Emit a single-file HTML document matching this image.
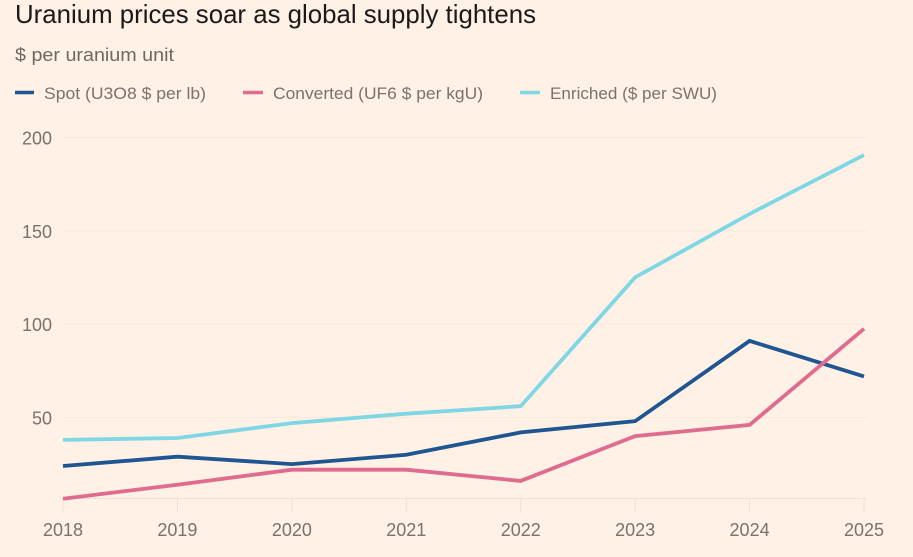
<!DOCTYPE html>
<html lang="en">
<head>
<meta charset="utf-8">
<title>Uranium prices soar as global supply tightens</title>
<style>
html,body{margin:0;padding:0;background:#fff1e5;width:913px;height:557px;overflow:hidden}
svg{display:block}
text{font-family:"Liberation Sans",sans-serif}
</style>
</head>
<body>
<svg id="chart" width="913" height="557" viewBox="0 0 913 557" xmlns="http://www.w3.org/2000/svg">
<rect x="0" y="0" width="913" height="557" fill="#fff1e5"/>
<text x="15" y="23" font-size="26" fill="#1c1a19" textLength="521" lengthAdjust="spacingAndGlyphs">Uranium prices soar as global supply tightens</text>
<text x="15" y="61" font-size="18" fill="#6f6863" textLength="159" lengthAdjust="spacingAndGlyphs">$ per uranium unit</text>
<g>
<line x1="15" x2="34" y1="92.5" y2="92.5" stroke="#1f5591" stroke-width="3.5"/>
<text x="44" y="99" font-size="17" fill="#7a726c" textLength="162" lengthAdjust="spacingAndGlyphs">Spot (U3O8 $ per lb)</text>
<line x1="243" x2="263" y1="92.5" y2="92.5" stroke="#df6b8e" stroke-width="3.5"/>
<text x="273" y="99" font-size="17" fill="#7a726c" textLength="210" lengthAdjust="spacingAndGlyphs">Converted (UF6 $ per kgU)</text>
<line x1="520" x2="540" y1="92.5" y2="92.5" stroke="#7fd6e4" stroke-width="3.5"/>
<text x="550" y="99" font-size="17" fill="#7a726c" textLength="167" lengthAdjust="spacingAndGlyphs">Enriched ($ per SWU)</text>
</g>
<g id="grid"></g>
<g id="xaxis"></g>
<g id="series"></g>
</svg>
<script>
const years = ['2018','2019','2020','2021','2022','2023','2024','2025'];
const spot = [24, 29, 25, 30, 42, 48, 91, 72];
const converted = [6.5, 14, 22, 22, 16, 40, 46, 97.5];
const enriched = [38, 39, 47, 52, 56, 125, 159, 190.5];
const yTicks = [50, 100, 150, 200];

const NS = 'http://www.w3.org/2000/svg';
const xScale = i => 63 + i * (864 - 63) / (years.length - 1);
const yScale = v => 510.8 - v * 1.867;
const baseY = 498.5;

function make(tag, attrs, parent) {
  const el = document.createElementNS(NS, tag);
  for (const k in attrs) el.setAttribute(k, attrs[k]);
  parent.appendChild(el);
  return el;
}

const grid = document.getElementById('grid');
yTicks.forEach(t => {
  const gl = make('line', {x1: 63, x2: 867, y1: yScale(t), y2: yScale(t), stroke: '#f9e9dc', 'stroke-width': 1}, grid);
  
  
  const lb = make('text', {x: 52, y: yScale(t) + 7, 'text-anchor': 'end', 'font-size': 18, fill: '#7a726c'}, grid);
  
  
  lb.textContent = t;
});

const xaxis = document.getElementById('xaxis');
const bl = make('line', {x1: 63, x2: 867, y1: baseY, y2: baseY, stroke: '#f0e1d5', 'stroke-width': 1}, xaxis);


years.forEach((y, i) => {
  const tk = make('line', {x1: xScale(i), x2: xScale(i), y1: baseY, y2: 513, stroke: '#f0e1d5', 'stroke-width': 1}, xaxis);
  
  
  const lb = make('text', {x: xScale(i), y: 536, 'text-anchor': 'middle', 'font-size': 18, fill: '#7a726c'}, xaxis);
  
  
  lb.textContent = y;
});

const seriesGroup = document.getElementById('series');
function drawLine(values, color, name) {
  const pts = values.map((v, i) => xScale(i).toFixed(1) + ',' + yScale(v).toFixed(1)).join(' ');
  const pl = make('polyline', {points: pts, fill: 'none', stroke: color, 'stroke-width': 3.8, 'stroke-linejoin': 'miter'}, seriesGroup);
  
  
}
drawLine(enriched, '#7fd6e4', 'line-enriched');
drawLine(spot, '#1f5591', 'line-spot');
drawLine(converted, '#df6b8e', 'line-converted');
</script>
</body>
</html>
